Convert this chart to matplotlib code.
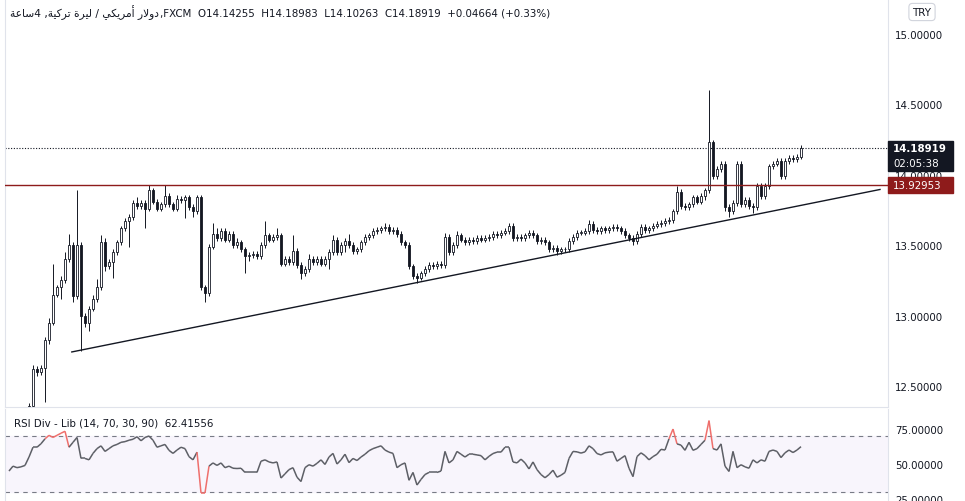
import matplotlib
matplotlib.use("Agg")
import matplotlib.pyplot as plt
import matplotlib.transforms as mtransforms
from matplotlib.patches import Rectangle
from matplotlib.collections import LineCollection
import numpy as np

# 4h candles, USD/TRY (FXCM)
first_open = 12.10
closes = [
    12.20, 12.15, 12.25, 12.30, 12.28, 12.36, 12.62, 12.60, 12.63, 12.83,
    12.95, 13.15, 13.20, 13.25, 13.40, 13.50, 13.14, 13.50, 13.00, 12.95,
    13.05, 13.12, 13.20, 13.52, 13.35, 13.38, 13.45, 13.52, 13.62, 13.67,
    13.70, 13.80, 13.78, 13.80, 13.76, 13.89, 13.81, 13.76, 13.79, 13.85,
    13.79, 13.76, 13.83, 13.82, 13.84, 13.77, 13.74, 13.84, 13.20, 13.16,
    13.49, 13.58, 13.55, 13.60, 13.54, 13.58, 13.50, 13.52, 13.47, 13.42,
    13.43, 13.44, 13.42, 13.50, 13.57, 13.54, 13.56, 13.57, 13.37, 13.40,
    13.38, 13.46, 13.36, 13.30, 13.33, 13.40, 13.38, 13.40, 13.37, 13.40,
    13.45, 13.54, 13.45, 13.50, 13.53, 13.50, 13.46, 13.47, 13.52, 13.56,
    13.57, 13.60, 13.61, 13.62, 13.63, 13.60, 13.61, 13.58, 13.52, 13.50,
    13.35, 13.28, 13.27, 13.30, 13.33, 13.36, 13.35, 13.37, 13.36, 13.56,
    13.45, 13.50, 13.57, 13.54, 13.52, 13.54, 13.53, 13.55, 13.54, 13.55,
    13.56, 13.58, 13.57, 13.59, 13.60, 13.64, 13.55, 13.56, 13.55, 13.57,
    13.59, 13.57, 13.53, 13.54, 13.52, 13.47, 13.48, 13.46, 13.47, 13.47,
    13.53, 13.56, 13.59, 13.59, 13.60, 13.65, 13.61, 13.60, 13.62, 13.61,
    13.62, 13.63, 13.62, 13.60, 13.57, 13.55, 13.53, 13.58, 13.63, 13.61,
    13.62, 13.64, 13.65, 13.66, 13.67, 13.68, 13.74, 13.88, 13.78, 13.77,
    13.79, 13.84, 13.81, 13.85, 13.89, 14.23, 13.99, 14.04, 14.08, 13.77,
    13.74, 13.80, 14.08, 13.79, 13.82, 13.78, 13.77, 13.92, 13.85, 13.92,
    14.06, 14.08, 14.10, 13.99, 14.10, 14.12, 14.11, 14.13, 14.18919,
]
# wick lengths beyond the body, in hundredths of a lira
wick_up = [
    2, 2, 2, 2, 3, 2, 3, 2, 2, 2,
    3, 22, 2, 3, 5, 8, 2, 39, 2, 2,
    2, 3, 6, 5, 3, 2, 2, 2, 2, 2,
    2, 2, 4, 2, 2, 4, 2, 2, 2, 8,
    2, 2, 3, 2, 2, 2, 2, 2, 2, 2,
    2, 8, 4, 2, 2, 2, 2, 3, 2, 2,
    2, 2, 2, 2, 10, 2, 2, 5, 2, 2,
    2, 11, 2, 2, 2, 4, 2, 2, 2, 2,
    2, 3, 2, 2, 2, 5, 2, 2, 2, 2,
    2, 2, 2, 2, 3, 2, 2, 2, 2, 2,
    2, 2, 2, 2, 2, 2, 2, 2, 2, 3,
    2, 2, 3, 2, 2, 2, 2, 2, 2, 2,
    2, 2, 2, 2, 2, 2, 2, 2, 2, 2,
    2, 2, 2, 2, 2, 2, 2, 2, 2, 2,
    2, 2, 2, 2, 2, 3, 2, 2, 2, 2,
    2, 2, 2, 2, 2, 2, 2, 2, 2, 2,
    2, 2, 2, 2, 2, 2, 2, 4, 2, 2,
    2, 2, 2, 2, 2, 37, 2, 2, 2, 2,
    2, 2, 2, 2, 2, 2, 2, 2, 2, 2,
    2, 2, 2, 2, 2, 2, 2, 2, 2,
]
wick_dn = [
    2, 3, 2, 2, 2, 2, 2, 3, 2, 24,
    3, 2, 2, 8, 2, 2, 4, 2, 25, 3,
    6, 2, 2, 2, 3, 2, 11, 2, 2, 2,
    18, 2, 2, 2, 14, 2, 2, 2, 2, 2,
    2, 2, 2, 2, 13, 2, 4, 2, 2, 6,
    2, 2, 2, 2, 2, 2, 2, 2, 2, 12,
    3, 2, 2, 2, 2, 2, 2, 2, 2, 2,
    2, 2, 2, 4, 2, 2, 2, 2, 2, 2,
    7, 2, 2, 2, 5, 2, 2, 2, 2, 2,
    2, 2, 2, 2, 2, 2, 2, 2, 2, 2,
    2, 2, 4, 2, 2, 2, 2, 2, 2, 2,
    2, 2, 2, 2, 2, 2, 2, 2, 2, 2,
    2, 2, 2, 2, 2, 2, 2, 2, 2, 2,
    2, 2, 2, 2, 2, 2, 2, 3, 2, 2,
    2, 2, 2, 2, 2, 2, 2, 2, 2, 2,
    2, 2, 2, 2, 2, 2, 3, 2, 2, 2,
    2, 2, 2, 2, 2, 2, 2, 2, 2, 2,
    2, 2, 2, 2, 3, 2, 2, 2, 2, 3,
    4, 2, 2, 2, 2, 2, 4, 2, 2, 2,
    2, 2, 2, 2, 2, 2, 2, 2, 2,
]
rsi = [
    45, 48.5, 47.4, 48, 49, 55, 62, 62, 64.5, 68,
    70.5, 69, 70.5, 72, 73.4, 62, 65.5, 69, 54, 54,
    53, 57.6, 61, 63, 59, 61, 63, 64, 65.5, 66,
    67, 67.7, 69.5, 66.6, 69, 70, 67, 62, 63, 64,
    59.8, 57.6, 60, 62, 61, 55.3, 53, 58.5, 29.4, 29.4,
    48.5, 50.8, 49, 50.8, 47.4, 48.5, 47, 46.8, 47, 44,
    44, 44, 44, 52, 53, 51.5, 50.8, 51.5, 40, 43,
    46, 47.4, 40.6, 37.5, 47.4, 49.5, 48.5, 50.5, 53, 49.7,
    55, 57.6, 50, 53, 57, 51, 54, 52.5, 55, 57,
    59.5, 61, 62, 63, 60, 58.5, 57.6, 47.4, 49.5, 50.8,
    38.4, 44, 35, 39, 42.5, 44, 44, 44, 45, 59,
    50.8, 53, 59, 57, 55, 57, 57, 56.5, 56, 53,
    55.5, 57.5, 58.5, 58.5, 62, 62, 51.5, 50.8, 53.5, 50.8,
    46.5, 51.5, 46, 42.5, 40.2, 42.5, 45.6, 40.6, 42, 44,
    54, 59, 58.7, 57.8, 58.7, 63, 61, 57.5, 56.5, 58,
    58.5, 58.7, 52, 54, 56, 47, 41, 55.3, 58, 56,
    53, 55.3, 57, 60.5, 60, 68, 75, 64.4, 63.5, 59.8,
    65.5, 59.8, 61, 64, 67, 81, 61, 60, 64.4, 48.5,
    44.7, 59, 47.4, 49.5, 48, 47, 53, 50.8, 53, 52,
    59, 60, 59, 54.6, 58, 60, 58.2, 60, 62.41556,
]

price_ticks = [12.5, 13.0, 13.5, 14.0, 14.5, 15.0]
rsi_ticks = [25, 50, 75]
rsi_bands = (30, 70)
last_price = 14.18919
countdown = "02:05:38"
level = 13.92953
trend_x = [15.7, 217.75]
trend_y = [12.742, 13.896]

# Arabic title in visual (left-to-right) order, pre-shaped glyphs
title_ar = ("\uFE94\uFECB\uFE8E\uFEB3" + "4 ," +
            "\uFE94\uFEF4\uFEDB\uFEAE\uFE97" + " " +
            "\uFE93\uFEAE\uFEF4\uFEDF" + " / " +
            "\uFEF2\uFEDC\uFEF3\uFEAE\uFEE3\uFE83" + " " +
            "\uFEAD\uFEFB\uFEED\uFEA9")
title_ohlc = ",FXCM  O14.14255  H14.18983  L14.10263  C14.18919  +0.04664 (+0.33%)"
rsi_title = "RSI Div - Lib (14, 70, 30, 90)  62.41556"

TXT = "#131722"
GRID = "#e0e3eb"

W, H = 965, 502
fig = plt.figure(figsize=(W / 100, H / 100), dpi=100)
fig.patch.set_facecolor("white")

ax = fig.add_axes([5 / W, (H - 408) / H, 883 / W, 408 / H])
ax2 = fig.add_axes([5 / W, 0, 883 / W, 92 / H], sharex=ax)

x = np.arange(len(closes))
c = np.array(closes)
o = np.array([first_open] + closes[:-1])
hi = np.maximum(o, c) + np.array(wick_up) / 100
lo = np.minimum(o, c) - np.array(wick_dn) / 100
up = c >= o

ax.vlines(x, lo, hi, color=TXT, lw=0.7, zorder=2)
body_lo = np.minimum(o, c)
body_h = np.maximum(np.abs(c - o), 0.005)
ax.bar(x[up], body_h[up], bottom=body_lo[up], width=0.62,
       color="white", edgecolor=TXT, lw=0.6, zorder=3)
ax.bar(x[~up], body_h[~up], bottom=body_lo[~up], width=0.62,
       color=TXT, edgecolor=TXT, lw=0.6, zorder=3)

ax.plot(trend_x, trend_y, color=TXT, lw=1.0, zorder=4)
ax.axhline(level, color="#8e1b1b", lw=1.0, zorder=4)
ax.axhline(last_price, color=TXT, lw=0.8, ls=(0, (1, 1.5)), zorder=1)

ax.set_xlim(-1, 219.75)
ax.set_ylim(12.351, 15.249)

for a in (ax, ax2):
    a.yaxis.tick_right()
    a.tick_params(axis="y", length=0, pad=5, labelsize=7.4, labelcolor=TXT)
    a.tick_params(axis="x", length=0, labelbottom=False)
    for s in ("top", "bottom"):
        a.spines[s].set_visible(False)
    a.spines["left"].set_color(GRID)
    a.spines["right"].set_color(GRID)

ax.set_yticks(price_ticks)
ax.set_yticklabels([f"{v:.5f}" for v in price_ticks])
ax.spines["bottom"].set_visible(True)
ax.spines["bottom"].set_color(GRID)

# price labels on the scale
ppu = 408 / (15.249 - 12.351)
tr = mtransforms.blended_transform_factory(ax.transAxes, ax.transData)
bw = 65 / 883
ax.add_patch(Rectangle((1.0, last_price - 23 / ppu), bw, 30 / ppu, transform=tr,
                       color=TXT, clip_on=False, zorder=10))
ax.text(1 + 5 / 883, last_price, f"{last_price:.5f}", transform=tr, color="white",
        fontsize=7.4, fontweight="bold", va="center", ha="left", zorder=11, clip_on=False)
ax.text(1 + 5 / 883, last_price - 15 / ppu, countdown, transform=tr, color="white",
        fontsize=7.4, va="center", ha="left", zorder=11, clip_on=False)
ax.add_patch(Rectangle((1.0, level - 8 / ppu), bw, 16 / ppu, transform=tr,
                       color="#8e1b1b", clip_on=False, zorder=10))
ax.text(1 + 5 / 883, level, f"{level:.5f}", transform=tr, color="white",
        fontsize=7.4, va="center", ha="left", zorder=11, clip_on=False)

# RSI pane
ax2.axhspan(rsi_bands[0], rsi_bands[1], color="#f8f5fc", zorder=0)
for b in rsi_bands:
    ax2.axhline(b, color="#787b86", lw=0.8, ls=(0, (4, 4)), zorder=1)
r = np.array(rsi)
pts = np.column_stack([x, r])
segs = np.stack([pts[:-1], pts[1:]], axis=1)
hot = (r[:-1] > 70.2) | (r[1:] > 70.2) | (r[:-1] < 30) | (r[1:] < 30)
seg_col = ["#ef6f6c" if h else "#5d5f66" for h in hot]
ax2.add_collection(LineCollection(segs, colors=seg_col, linewidths=1.1, zorder=2))
ax2.set_ylim(23.6, 89.3)
ax2.set_yticks(rsi_ticks)
ax2.set_yticklabels([f"{v:.5f}" for v in rsi_ticks])

# header texts
fig.text(10 / W, 1 - 13 / H, title_ar, fontsize=7.7, color=TXT, va="center",
         family=["DejaVu Sans"])
fig.text(160 / W, 1 - 13 / H, title_ohlc, fontsize=7.4, color=TXT, va="center")
fig.text(14 / W, 1 - 424 / H, rsi_title, fontsize=7.4, color=TXT, va="center")
fig.text(922 / W, 1 - 13 / H, "TRY", fontsize=7.4, color=TXT, va="center", ha="center",
         bbox=dict(boxstyle="round,pad=0.35", fc="white", ec="#d1d4dc", lw=0.8))

fig.savefig("out.png", dpi=100)
